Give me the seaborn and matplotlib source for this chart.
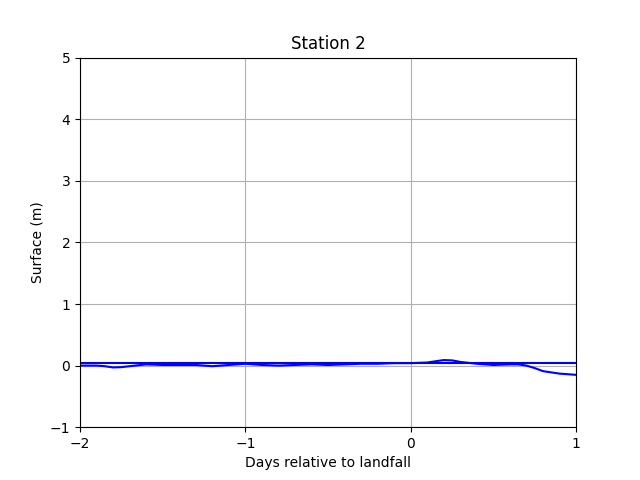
import matplotlib
matplotlib.use("Agg")
import matplotlib.pyplot as plt
import seaborn as sns

days = [-2.0, -1.9, -1.85, -1.8, -1.75, -1.7, -1.6, -1.5, -1.4, -1.3, -1.2, -1.1, -1.0,
        -0.9, -0.8, -0.7, -0.6, -0.5, -0.4, -0.3, -0.2, -0.1, 0.0,
        0.1, 0.15, 0.2, 0.25, 0.3, 0.4, 0.5, 0.6, 0.65, 0.7, 0.75, 0.8, 0.85, 0.9, 0.95, 1.0]
surface = [0.00, 0.00, -0.01, -0.03, -0.025, -0.01, 0.02, 0.01, 0.01, 0.01, -0.01, 0.01, 0.03,
           0.01, 0.00, 0.01, 0.02, 0.01, 0.02, 0.03, 0.03, 0.04, 0.04,
           0.05, 0.07, 0.09, 0.085, 0.06, 0.03, 0.01, 0.02, 0.02, 0.00, -0.04, -0.09, -0.11, -0.13, -0.14, -0.15]
ref_days = [-2.0, 1.0]
ref_level = [0.045, 0.045]

fig, ax = plt.subplots(figsize=(6.4, 4.8), dpi=100)
sns.lineplot(x=days, y=surface, ax=ax, color="blue", linewidth=1.5)
sns.lineplot(x=ref_days, y=ref_level, ax=ax, color="blue", linewidth=1.5)
ax.set_xlim(-2, 1)
ax.set_ylim(-1, 5)
ax.set_xticks([-2, -1, 0, 1])
ax.grid(True)
ax.set_axisbelow(True)
ax.set_title("Station 2")
ax.set_xlabel("Days relative to landfall")
ax.set_ylabel("Surface (m)")
fig.savefig("out.png", dpi=100)
